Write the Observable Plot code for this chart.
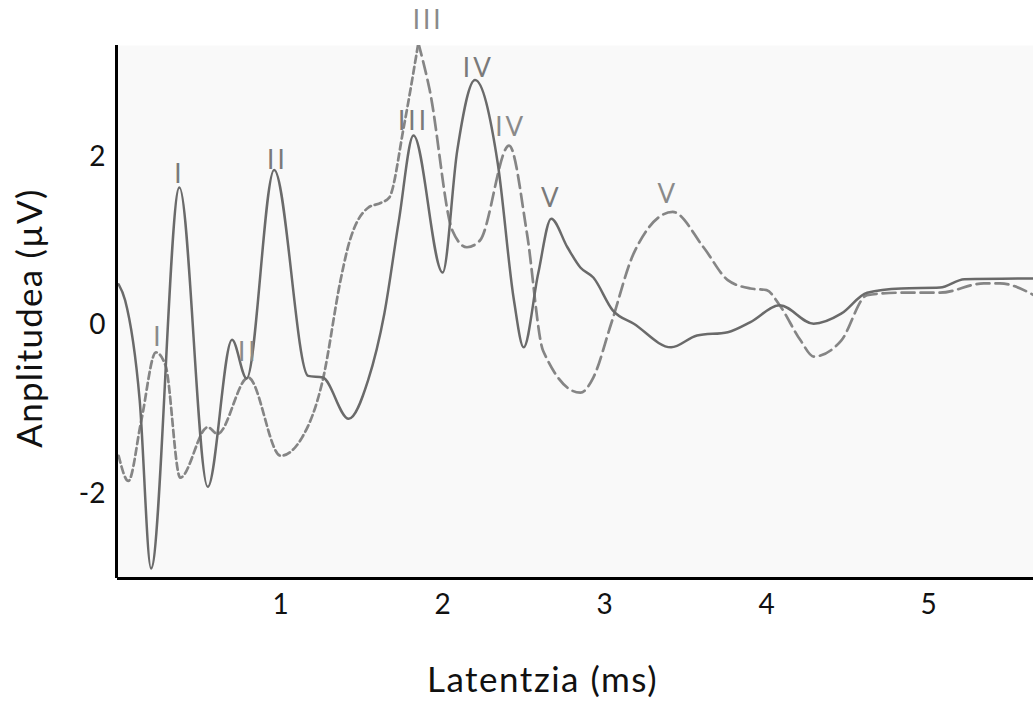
<!DOCTYPE html>
<html>
<head>
<meta charset="utf-8">
<script src="https://cdn.jsdelivr.net/npm/d3@7"></script>
<script src="https://cdn.jsdelivr.net/npm/@observablehq/plot@0.6"></script>
<style>
  html, body { margin: 0; padding: 0; background: white; }
  #chart svg { display: block; }
</style>
</head>
<body>
<div id="chart"></div>
<script>
// Latency (ms) and amplitude (µV) of the solid trace
const solidT = [0, 0.04, 0.13, 0.20, 0.375, 0.55, 0.70, 0.79, 0.96, 1.17, 1.26, 1.42, 1.54, 1.64, 1.73, 1.82, 2.00, 2.09, 2.20, 2.34, 2.44, 2.50, 2.59, 2.67, 2.77, 2.85, 2.93, 3.05, 3.18, 3.41, 3.57, 3.76, 3.90, 4.08, 4.29, 4.46, 4.62, 4.83, 5.07, 5.22, 5.65];
const solidV = [0.49, 0.30, -0.89, -2.89, 1.64, -1.92, -0.17, -0.63, 1.85, -0.60, -0.62, -1.11, -0.65, 0.14, 1.25, 2.26, 0.63, 2.08, 2.92, 1.93, 0.30, -0.26, 0.62, 1.27, 0.93, 0.69, 0.57, 0.18, 0.02, -0.26, -0.12, -0.08, 0.04, 0.24, 0.02, 0.14, 0.39, 0.44, 0.45, 0.55, 0.56];

// Latency (ms) and amplitude (µV) of the dashed trace
const dashedT = [0, 0.06, 0.14, 0.23, 0.29, 0.38, 0.55, 0.61, 0.80, 1.00, 1.13, 1.26, 1.37, 1.41, 1.54, 1.62, 1.67, 1.76, 1.85, 1.92, 2.06, 2.15, 2.23, 2.41, 2.52, 2.62, 2.85, 2.93, 3.04, 3.18, 3.42, 3.61, 3.76, 3.90, 4.00, 4.08, 4.21, 4.29, 4.46, 4.62, 4.83, 5.07, 5.34, 5.44, 5.65];
const dashedV = [-1.55, -1.85, -1.13, -0.32, -0.48, -1.81, -1.21, -1.29, -0.62, -1.55, -1.34, -0.65, 0.54, 0.89, 1.40, 1.46, 1.52, 2.36, 3.36, 2.80, 1.13, 0.93, 1.01, 2.14, 1.10, -0.30, -0.80, -0.62, 0.02, 0.86, 1.35, 0.93, 0.54, 0.44, 0.42, 0.24, -0.18, -0.37, -0.18, 0.36, 0.39, 0.39, 0.50, 0.50, 0.36];

// Peak labels
const solidLabels = ["I", "II", "III", "IV", "V"];
const solidLabelT = [0.375, 0.98, 1.82, 2.22, 2.67];
const solidLabelV = [1.79, 1.96, 2.42, 3.06, 1.51];
const dashedLabels = ["I", "II", "III", "IV", "V"];
const dashedLabelT = [0.245, 0.80, 1.91, 2.42, 3.39];
const dashedLabelV = [-0.14, -0.32, 3.63, 2.35, 1.55];

// Ticks and titles
const xTicks = [1, 2, 3, 4, 5];
const yTicks = [-2, 0, 2];
const xTitle = "Latentzia (ms)";
const yTitle = "Anplitudea (µV)";

const xDomain = [-0.007, 5.647];
const yDomain = [-3.01, 3.33];

const solid = solidT.map((t, i) => ({t, v: solidV[i]}));
const dashed = dashedT.map((t, i) => ({t, v: dashedV[i]}));
const dashedEarly = dashed.filter(d => d.t <= 1.85);
const dashedLate = dashed.filter(d => d.t >= 1.85);
const sLab = solidLabels.map((s, i) => ({s, t: solidLabelT[i], v: solidLabelV[i]}));
const dLab = dashedLabels.map((s, i) => ({s, t: dashedLabelT[i], v: dashedLabelV[i]}));

const chart = Plot.plot({
  width: 1033,
  height: 702,
  marginLeft: 117,
  marginRight: 0,
  marginTop: 45,
  marginBottom: 124,
  x: {domain: xDomain, axis: null},
  y: {domain: yDomain, axis: null},
  style: {background: "white", fontFamily: "Lato, 'Open Sans', sans-serif", overflow: "visible"},
  marks: [
    Plot.frame({fill: "#f9f9f9", stroke: "none"}),
    Plot.line(dashedEarly, {x: "t", y: "v", stroke: "#858585", strokeWidth: 2.7, strokeDasharray: "7,4", curve: "monotone-x", clip: true}),
    Plot.line(dashedLate, {x: "t", y: "v", stroke: "#858585", strokeWidth: 2.7, strokeDasharray: "13,6", curve: "monotone-x", clip: true}),
    Plot.line(solid, {x: "t", y: "v", stroke: "#6a6a6a", strokeWidth: 2.5, curve: "monotone-x", clip: true}),
    Plot.text(sLab, {x: "t", y: "v", text: "s", fill: "#7a7a7a", fontSize: 26, lineAnchor: "middle", textAnchor: "middle"}),
    Plot.text(dLab, {x: "t", y: "v", text: "s", fill: "#8a8a8a", fontSize: 26, lineAnchor: "middle", textAnchor: "middle"}),
    Plot.ruleX([xDomain[0]], {stroke: "black", strokeWidth: 3, dx: -1}),
    Plot.ruleY([yDomain[0]], {stroke: "black", strokeWidth: 3}),
    Plot.text(xTicks, {x: d => d, text: d => String(d), frameAnchor: "bottom", dy: 27, lineAnchor: "middle", textAnchor: "middle", fontSize: 28, fill: "#111"}),
    Plot.text(yTicks, {y: d => d, text: d => String(d), frameAnchor: "left", dx: -12, textAnchor: "end", lineAnchor: "middle", fontSize: 28, fill: "#111"}),
    Plot.text([xTitle], {text: d => d, frameAnchor: "bottom", dx: -33, dy: 102, lineAnchor: "middle", textAnchor: "middle", fontSize: 35, fill: "#111"}),
    Plot.text([yTitle], {text: d => d, frameAnchor: "left", dx: -87, dy: 6, rotate: -90, lineAnchor: "middle", textAnchor: "middle", fontSize: 35, fill: "#111"})
  ]
});
// letter spacing tweaks for the text groups (peak labels, then titles)
const textGroups = chart.querySelectorAll('g[aria-label="text"]');
if (textGroups.length >= 6) {
  textGroups[0].setAttribute("letter-spacing", "3");
  textGroups[1].setAttribute("letter-spacing", "3");
  textGroups[4].setAttribute("letter-spacing", "1.5");
  textGroups[5].setAttribute("letter-spacing", "1.2");
}
document.getElementById("chart").appendChild(chart);
</script>
</body>
</html>
